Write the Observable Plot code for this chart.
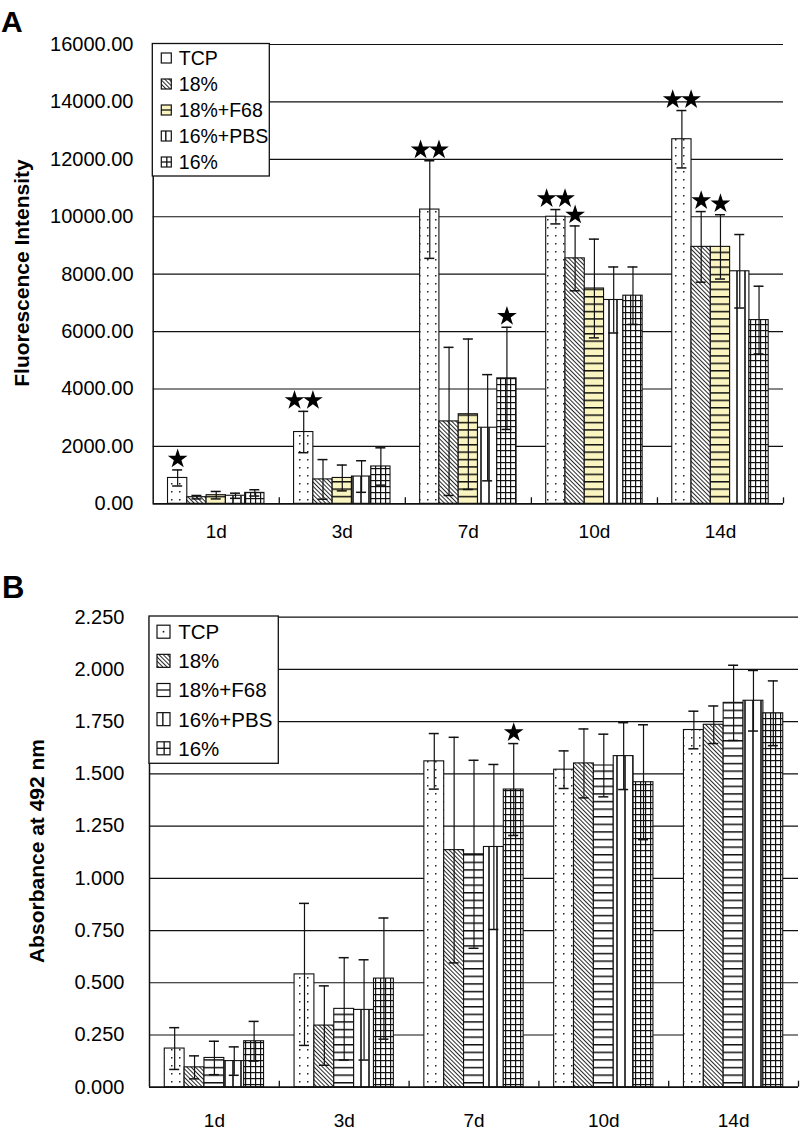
<!DOCTYPE html>
<html><head><meta charset="utf-8">
<script src="https://cdn.jsdelivr.net/npm/d3@7"></script>
<script src="https://cdn.jsdelivr.net/npm/@observablehq/plot@0.6"></script>
<style>
body{margin:0;background:#fff;}
#root{position:relative;width:800px;height:1132px;overflow:hidden;font-family:"Liberation Sans",Arial,sans-serif;}
#root > svg{position:absolute;left:0;}
</style></head><body>
<svg width="0" height="0" style="position:absolute;left:0;top:0">
<defs>
 <pattern id="pTCP" patternUnits="userSpaceOnUse" width="8" height="8"><rect width="8" height="8" fill="#fff"/><rect x="3" y="3" width="1.5" height="1.5" fill="#222"/></pattern>
 <pattern id="p18" patternUnits="userSpaceOnUse" width="3" height="3" patternTransform="rotate(-45)"><rect width="3" height="3" fill="#fff"/><line x1="0.5" y1="0" x2="0.5" y2="3" stroke="#111" stroke-width="0.9"/></pattern>
 <pattern id="pF68a" patternUnits="userSpaceOnUse" width="10" height="7.4"><rect width="10" height="7.4" fill="#faf5c0"/><line x1="0" y1="0.75" x2="10" y2="0.75" stroke="#111" stroke-width="1.5"/></pattern>
 <pattern id="pF68b" patternUnits="userSpaceOnUse" width="10" height="7.6"><rect width="10" height="7.6" fill="#fff"/><line x1="0" y1="0.75" x2="10" y2="0.75" stroke="#111" stroke-width="1.5"/></pattern>
 <pattern id="pPBS" patternUnits="userSpaceOnUse" width="8" height="10"><rect width="8" height="10" fill="#fff"/><line x1="1" y1="0" x2="1" y2="10" stroke="#111" stroke-width="1.6"/></pattern>
 <pattern id="p16" patternUnits="userSpaceOnUse" width="5" height="6"><rect width="5" height="6" fill="#fff"/><line x1="0.6" y1="0" x2="0.6" y2="6" stroke="#111" stroke-width="1.2"/><line x1="0" y1="0.6" x2="5" y2="0.6" stroke="#111" stroke-width="1.2"/></pattern>
</defs></svg>
<div id="root"></div>
<script>
// ---------- data ----------
const days = ["1d", "3d", "7d", "10d", "14d"];
const groups = ["TCP", "18%", "18%+F68", "16%+PBS", "16%"];

// Panel A: Fluorescence Intensity
const tcpA      = [900, 2500, 10250, 10000, 12700];
const tcpAErr   = [280, 720, 1700, 250, 1000];
const p18A      = [230, 850, 2870, 8550, 8950];
const p18AErr   = [60, 690, 2580, 1130, 1230];
const f68A      = [300, 900, 3120, 7500, 8950];
const f68AErr   = [130, 450, 2620, 1720, 1120];
const pbsA      = [280, 950, 2650, 7100, 8100];
const pbsAErr   = [90, 550, 1850, 1150, 1280];
const p16A      = [380, 1300, 4370, 7250, 6400];
const p16AErr   = [110, 650, 1780, 1000, 1180];
const yTicksA   = [0, 2000, 4000, 6000, 8000, 10000, 12000, 14000, 16000];
// significance stars: number of stars above a bar
const starsA = [
  {day: "1d", group: "TCP", n: 1},
  {day: "3d", group: "TCP", n: 2},
  {day: "7d", group: "TCP", n: 2},
  {day: "7d", group: "16%", n: 1},
  {day: "10d", group: "TCP", n: 2},
  {day: "10d", group: "18%", n: 1},
  {day: "14d", group: "TCP", n: 2},
  {day: "14d", group: "18%", n: 1},
  {day: "14d", group: "18%+F68", n: 1}
];

// Panel B: Absorbance at 492 nm
const tcpB      = [0.185, 0.54, 1.56, 1.52, 1.71];
const tcpBErr   = [0.10, 0.34, 0.133, 0.09, 0.09];
const p18B      = [0.095, 0.295, 1.135, 1.55, 1.735];
const p18BErr   = [0.055, 0.19, 0.54, 0.165, 0.09];
const f68B      = [0.14, 0.375, 1.115, 1.54, 1.84];
const f68BErr   = [0.08, 0.245, 0.45, 0.15, 0.18];
const pbsB      = [0.125, 0.37, 1.15, 1.585, 1.85];
const pbsBErr   = [0.068, 0.24, 0.395, 0.16, 0.145];
const p16B      = [0.22, 0.52, 1.425, 1.46, 1.79];
const p16BErr   = [0.095, 0.29, 0.22, 0.275, 0.155];
const yTicksB   = [0, 0.25, 0.5, 0.75, 1.0, 1.25, 1.5, 1.75, 2.0, 2.25];
const starsB = [
  {day: "7d", group: "16%", n: 1}
];

// ---------- build ----------
const BW = 0.153;
const PAD = (1 - groups.length * BW) / 2;
function table(vals, errs) {
  return days.flatMap((d, i) => groups.map((g, j) => ({day: d, di: i, group: g, gj: j, value: vals[j][i], err: errs[j][i]})));
}
const rowsA = table([tcpA, p18A, f68A, pbsA, p16A], [tcpAErr, p18AErr, f68AErr, pbsAErr, p16AErr]);
const rowsB = table([tcpB, p18B, f68B, pbsB, p16B], [tcpBErr, p18BErr, f68BErr, pbsBErr, p16BErr]);
const xc = r => r.di + PAD + (r.gj + 0.5) * BW;
const INK = "#111";

function panel(o) {
  const starRows = o.stars.map(s => {
    const r = o.rows.find(r => r.day === s.day && r.group === s.group);
    return {...r, n: s.n};
  });
  const single = starRows.filter(r => r.n === 1);
  const double = starRows.filter(r => r.n === 2);
  const starOpts = (dx) => ({x: xc, y: r => r.value + r.err, symbol: "star", r: 6.2, fill: "#000", stroke: "none", dx, dy: -11});
  return Plot.plot({
    width: 800, height: o.height,
    marginTop: o.marginTop, marginBottom: o.marginBottom, marginLeft: o.marginLeft, marginRight: o.marginRight,
    style: {fontFamily: '"Liberation Sans", Arial, "DejaVu Sans", sans-serif', fontSize: "20px", color: "#000", background: "transparent", overflow: "visible"},
    x: {domain: [0, days.length], axis: null},
    y: {domain: [o.yTicks[0], o.yTicks[o.yTicks.length - 1]], ticks: o.yTicks, tickFormat: d3.format(o.fmt), tickSize: 0, tickPadding: o.tickPadding, label: null},
    marks: [
      Plot.ruleY(o.yTicks, {stroke: INK, strokeWidth: 1.2}),
      ...groups.map((g, j) => Plot.rect(o.rows.filter(r => r.gj === j), {
        x1: r => r.di + PAD + r.gj * BW,
        x2: r => r.di + PAD + (r.gj + 1) * BW,
        y1: 0, y2: "value",
        fill: o.fills[j], stroke: INK, strokeWidth: 1.1
      })),
      Plot.ruleX(o.rows, {x: xc, y1: r => r.value - r.err, y2: r => r.value + r.err, stroke: INK, strokeWidth: 1.2}),
      Plot.ruleY(o.rows, {x1: xc, x2: xc, y: r => r.value + r.err, insetLeft: -5, insetRight: -5, stroke: INK, strokeWidth: 1.5}),
      Plot.ruleY(o.rows, {x1: xc, x2: xc, y: r => r.value - r.err, insetLeft: -5, insetRight: -5, stroke: INK, strokeWidth: 1.5}),
      Plot.ruleX([0], {stroke: INK, strokeWidth: 1.5}),
      Plot.ruleY([0], {stroke: INK, strokeWidth: 1.6}),
      Plot.ruleX(d3.range(1, days.length + 1), {x: d => d, y1: 0, y2: 0, insetTop: -6, stroke: INK, strokeWidth: 1.3}),
      Plot.dot(single, starOpts(0)),
      Plot.dot(double, starOpts(-9.2)),
      Plot.dot(double, starOpts(9.2)),
      Plot.text(days, {x: (d, i) => i + 0.5, y: () => 0, text: d => d, dy: o.labelDy, fontSize: 19, fill: "#000"})
    ]
  });
}

const root = document.getElementById("root");
const svgA = panel({rows: rowsA, stars: starsA, yTicks: yTicksA, fmt: ".2f",
  fills: ["url(#pTCP)", "url(#p18)", "url(#pF68a)", "url(#pPBS)", "url(#p16)"],
  height: 550, marginTop: 44, marginBottom: 46.7, marginLeft: 152.7, marginRight: 17, tickPadding: 19.7, labelDy: 28.4});
svgA.style.top = "0px";
root.appendChild(svgA);

const svgB = panel({rows: rowsB, stars: starsB, yTicks: yTicksB, fmt: ".3f",
  fills: ["url(#pTCP)", "url(#p18)", "url(#pF68b)", "url(#pPBS)", "url(#p16)"],
  height: 582, marginTop: 66.7, marginBottom: 45.3, marginLeft: 149, marginRight: 2, tickPadding: 25, labelDy: 33.3});
svgB.style.top = "550px";
root.appendChild(svgB);

// ---------- overlay: panel letters, axis titles, legends ----------
const ov = d3.select(root).append("svg").attr("width", 800).attr("height", 1132).style("top", "0px")
  .style("font-family", '"Liberation Sans", Arial, sans-serif');
ov.append("text").attr("x", 1).attr("y", 32).attr("font-size", 30).attr("font-weight", "bold").text("A");
ov.append("text").attr("x", 2).attr("y", 598).attr("font-size", 31).attr("font-weight", "bold").text("B");
ov.append("text").attr("transform", "translate(29,273) rotate(-90)").attr("text-anchor", "middle")
  .attr("font-size", 21).attr("font-weight", "bold").text("Fluorescence Intensity");
ov.append("text").attr("transform", "translate(44,851) rotate(-90)").attr("text-anchor", "middle")
  .attr("font-size", 21).attr("font-weight", "bold").text("Absorbance at 492 nm");

function legend(L) {
  const g = ov.append("g");
  g.append("rect").attr("x", L.x).attr("y", L.y).attr("width", L.w).attr("height", L.h)
    .attr("fill", "#fff").attr("stroke", INK).attr("stroke-width", 1.3);
  groups.forEach((name, i) => {
    const cy = L.y + L.first + i * L.step;
    const s = L.sw, sx = L.x + L.sx, sy = cy - s / 2;
    const sg = g.append("g");
    let fill = "#fff";
    if (i === 1) fill = "url(#p18)";
    if (i === 2) fill = L.f68;
    sg.append("rect").attr("x", sx).attr("y", sy).attr("width", s).attr("height", s).attr("fill", fill).attr("stroke", INK).attr("stroke-width", 1.2);
    if (i === 0 && L.dot) sg.append("rect").attr("x", sx + s / 2 - 0.8).attr("y", sy + s / 2 - 0.8).attr("width", 1.6).attr("height", 1.6).attr("fill", INK);
    if (i === 2 || i === 4) sg.append("line").attr("x1", sx).attr("x2", sx + s).attr("y1", cy).attr("y2", cy).attr("stroke", INK).attr("stroke-width", 1.3);
    if (i === 3) sg.append("line").attr("x1", sx + s * 0.45).attr("x2", sx + s * 0.45).attr("y1", sy).attr("y2", sy + s).attr("stroke", INK).attr("stroke-width", 1.4);
    if (i === 4) sg.append("line").attr("x1", sx + s * 0.55).attr("x2", sx + s * 0.55).attr("y1", sy).attr("y2", sy + s).attr("stroke", INK).attr("stroke-width", 1.3);
    g.append("text").attr("x", L.x + L.tx).attr("y", cy).attr("dy", "0.36em").attr("font-size", L.fs).text(name);
  });
}
legend({x: 152.3, y: 43.5, w: 117, h: 132.5, first: 14.5, step: 26, sx: 9, sw: 10, tx: 26.5, fs: 19.5, f68: "#faf5c0", dot: false});
legend({x: 149, y: 616, w: 129.3, h: 147.3, first: 15.7, step: 29.15, sx: 8, sw: 13, tx: 29.3, fs: 20.5, f68: "#fff", dot: true});
</script>
</body></html>
